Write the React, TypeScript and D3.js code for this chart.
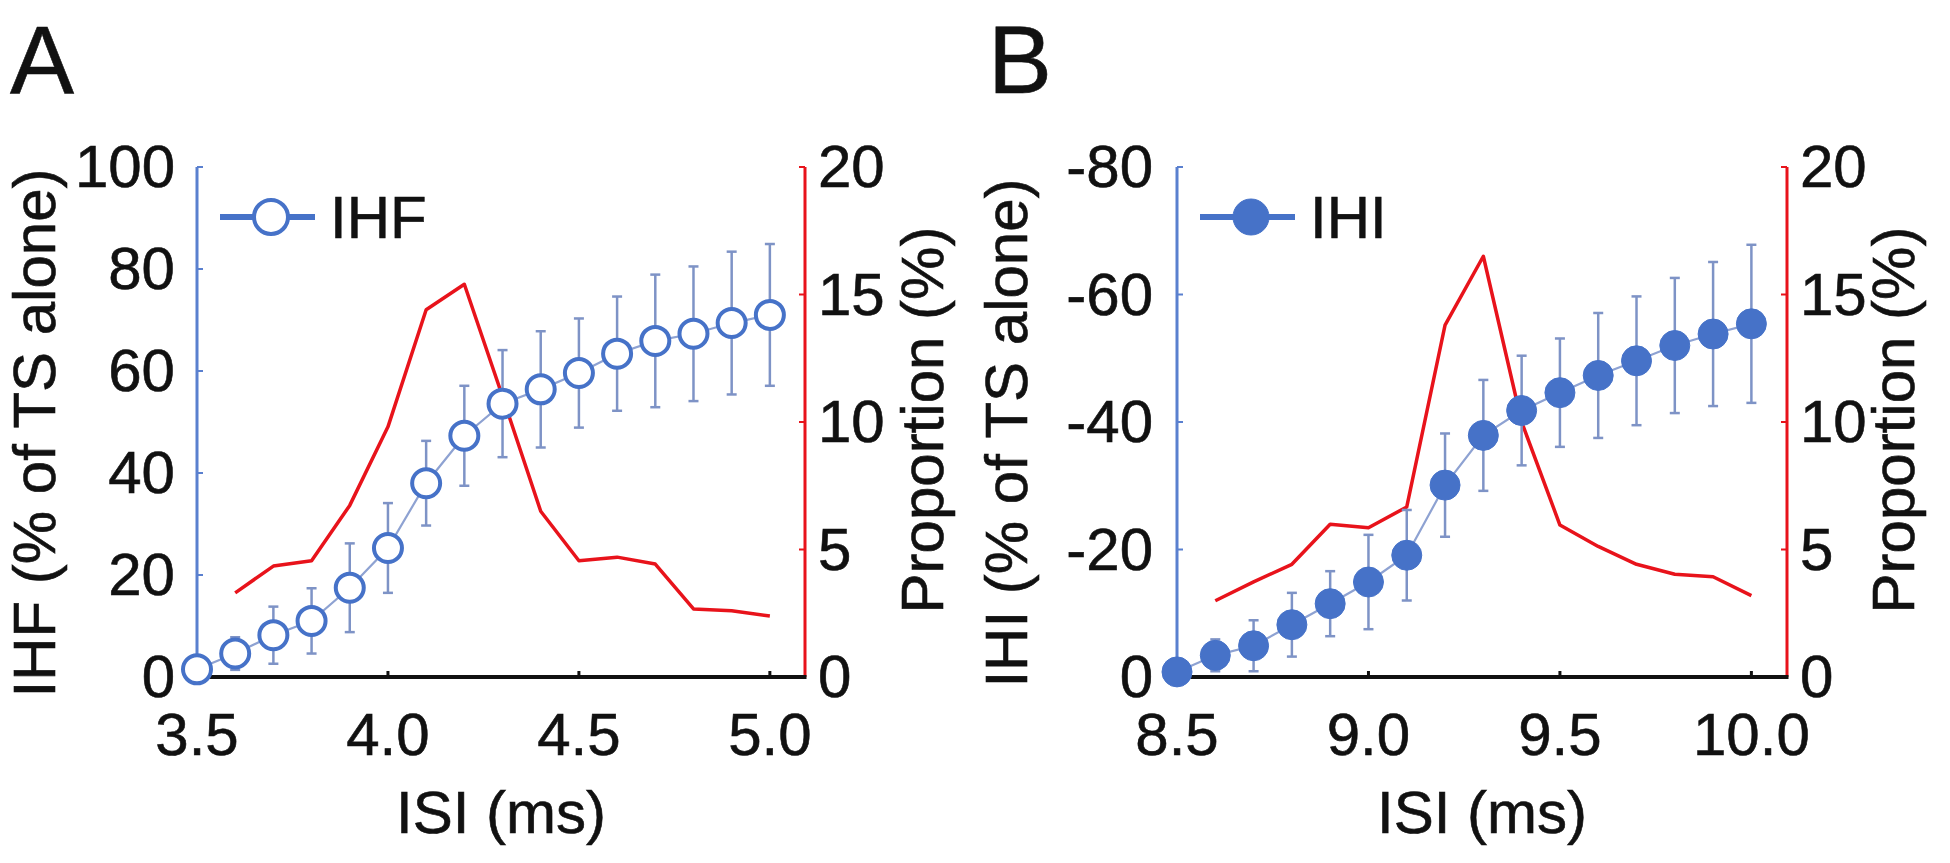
import React from "react";
import * as d3 from "d3";

// ---------- data ----------
const isiA = [3.5, 3.6, 3.7, 3.8, 3.9, 4.0, 4.1, 4.2, 4.3, 4.4, 4.5, 4.6, 4.7, 4.8, 4.9, 5.0];
const ihf = [1.5, 4.6, 8.2, 11.0, 17.5, 25.3, 38.0, 47.3, 53.6, 56.4, 59.6, 63.4, 65.9, 67.3, 69.4, 71.0];
const ihfErr = [0, 3.2, 5.6, 6.4, 8.7, 8.8, 8.3, 9.8, 10.5, 11.4, 10.7, 11.2, 13.0, 13.2, 14.0, 13.9];
const propIsiA = [3.6, 3.7, 3.8, 3.9, 4.0, 4.1, 4.2, 4.3, 4.4, 4.5, 4.6, 4.7, 4.8, 4.9, 5.0];
const propA = [3.3, 4.35, 4.56, 6.73, 9.81, 14.4, 15.4, 11.0, 6.5, 4.56, 4.7, 4.43, 2.67, 2.6, 2.39];

const isiB = [8.5, 8.6, 8.7, 8.8, 8.9, 9.0, 9.1, 9.2, 9.3, 9.4, 9.5, 9.6, 9.7, 9.8, 9.9, 10.0];
const ihi = [-0.8, -3.4, -4.9, -8.2, -11.5, -14.9, -19.1, -30.1, -37.9, -41.8, -44.6, -47.3, -49.6, -52.0, -53.8, -55.4];
const ihiErr = [0, 2.5, 4.0, 5.0, 5.1, 7.4, 7.1, 8.1, 8.7, 8.6, 8.5, 9.8, 10.1, 10.6, 11.3, 12.4];
const propIsiB = [8.6, 8.7, 8.8, 8.9, 9.0, 9.1, 9.2, 9.3, 9.4, 9.5, 9.6, 9.7, 9.8, 9.9, 10.0];
const propB = [2.99, 3.73, 4.42, 5.99, 5.85, 6.67, 13.8, 16.5, 10.0, 5.96, 5.12, 4.42, 4.03, 3.93, 3.19];

const xTicksA = [3.5, 4.0, 4.5, 5.0];
const xTicksB = [8.5, 9.0, 9.5, 10.0];
const yTicksA = [0, 20, 40, 60, 80, 100];
const yTicksB = [0, -20, -40, -60, -80];
const propTicks = [0, 5, 10, 15, 20];

const BLUE = "#4672C8";
const AXIS_BLUE = "#5A80CF";
const ERR = "#7E93C6";
const CONN = "#8EA2D2";
const RED = "#E8131B";
const INK = "#111";
const FONT = "'Liberation Sans', Arial, Helvetica, sans-serif";

type PanelProps = {
  letter: string;
  left: number;
  right: number;
  xDomain: [number, number];
  xTicks: number[];
  yDomain: [number, number];
  yTicks: number[];
  xs: number[];
  ys: number[];
  errs: number[];
  pxs: number[];
  ps: number[];
  yLabel: string;
  legend: string;
  filled: boolean;
  leftLabelEnd: number;
  rightLabelStart: number;
  yLabelX: number;
  propLabelX: number;
  letterX: number;
};

const TOP = 167;
const BOTTOM = 677;

function Panel(p: PanelProps) {
  const x = d3.scaleLinear().domain(p.xDomain).range([p.left, p.right]);
  const y = d3.scaleLinear().domain(p.yDomain).range([BOTTOM, TOP]);
  const yr = d3.scaleLinear().domain([0, 20]).range([BOTTOM, TOP]);
  const line = d3
    .line<number>()
    .x((_, i) => x(p.xs[i]))
    .y((d) => y(d));
  const pline = d3
    .line<number>()
    .x((_, i) => x(p.pxs[i]))
    .y((d) => yr(d));
  const x0 = p.left;
  const sign = p.yDomain[1] < 0 ? -1 : 1;
  const legY = 217;
  const txt = { fill: INK, stroke: INK, strokeWidth: 0.6 };
  return (
    <g fontFamily={FONT}>
      <text x={p.letterX} y={93} fontSize={96} {...txt}>
        {p.letter}
      </text>
      {/* left axis */}
      <line x1={x0} x2={x0} y1={TOP} y2={BOTTOM} stroke={AXIS_BLUE} strokeWidth={3} />
      {p.yTicks.map((t) => (
        <g key={"yl" + t}>
          <line x1={x0} x2={x0 + 6} y1={y(t)} y2={y(t)} stroke={AXIS_BLUE} strokeWidth={2} />
          <text x={p.leftLabelEnd} y={y(t) + 20} fontSize={60} textAnchor="end" {...txt}>
            {t}
          </text>
        </g>
      ))}
      {/* right axis */}
      <line x1={p.right} x2={p.right} y1={TOP} y2={BOTTOM} stroke={RED} strokeWidth={3} />
      {propTicks.map((t) => (
        <g key={"yr" + t}>
          <line x1={p.right} x2={p.right - 6} y1={yr(t)} y2={yr(t)} stroke={RED} strokeWidth={2} />
          <text x={p.rightLabelStart} y={yr(t) + 20} fontSize={60} {...txt}>
            {t}
          </text>
        </g>
      ))}
      {/* bottom axis */}
      <line x1={x0} x2={p.right + 1.5} y1={BOTTOM} y2={BOTTOM} stroke={INK} strokeWidth={4} />
      {p.xTicks.map((t) => (
        <g key={"x" + t}>
          <line x1={x(t)} x2={x(t)} y1={BOTTOM} y2={BOTTOM - 6} stroke={INK} strokeWidth={3} />
          <text x={x(t)} y={755} fontSize={60} textAnchor="middle" {...txt}>
            {t.toFixed(1)}
          </text>
        </g>
      ))}
      {/* labels */}
      <text
        transform={`translate(${p.yLabelX},${433}) rotate(-90)`}
        fontSize={60}
        textAnchor="middle"
        {...txt}
      >
        {p.yLabel}
      </text>
      <text
        transform={`translate(${p.propLabelX},${420}) rotate(-90)`}
        fontSize={60}
        textAnchor="middle"
        {...txt}
      >
        Proportion (%)
      </text>
      <text x={(p.left + p.right) / 2} y={833} fontSize={60} textAnchor="middle" {...txt}>
        ISI (ms)
      </text>
      {/* red proportion line */}
      <path d={pline(p.ps) || ""} fill="none" stroke={RED} strokeWidth={3.5} strokeLinejoin="round" />
      {/* connecting line */}
      <path d={line(p.ys) || ""} fill="none" stroke={CONN} strokeWidth={2.2} />
      {/* error bars */}
      {p.ys.map((v, i) =>
        p.errs[i] > 0 ? (
          <g key={"e" + i} stroke={ERR} strokeWidth={2.5}>
            <line x1={x(p.xs[i])} x2={x(p.xs[i])} y1={y(v + sign * p.errs[i])} y2={y(v - sign * p.errs[i])} />
            <line x1={x(p.xs[i]) - 5} x2={x(p.xs[i]) + 5} y1={y(v + sign * p.errs[i])} y2={y(v + sign * p.errs[i])} />
            <line x1={x(p.xs[i]) - 5} x2={x(p.xs[i]) + 5} y1={y(v - sign * p.errs[i])} y2={y(v - sign * p.errs[i])} />
          </g>
        ) : null
      )}
      {/* markers */}
      {p.ys.map((v, i) => (
        <circle
          key={"m" + i}
          cx={x(p.xs[i])}
          cy={y(v)}
          r={p.filled ? 15 : 14}
          fill={p.filled ? BLUE : "#fff"}
          stroke={BLUE}
          strokeWidth={p.filled ? 1 : 4}
        />
      ))}
      {/* legend */}
      <line x1={p.left + 23} x2={p.left + 118} y1={legY} y2={legY} stroke={BLUE} strokeWidth={6} />
      <circle
        cx={p.left + 74}
        cy={legY}
        r={p.filled ? 18 : 17}
        fill={p.filled ? BLUE : "#fff"}
        stroke={BLUE}
        strokeWidth={p.filled ? 1 : 4}
      />
      <text x={p.left + 133} y={238} fontSize={60} {...txt}>
        {p.legend}
      </text>
    </g>
  );
}

export default function App() {
  return (
    <div style={{ position: "absolute", left: 0, top: 0 }}>
      <svg width={1950} height={863} style={{ display: "block", background: "#fff" }}>
        <rect width={1950} height={863} fill="#fff" />
        <Panel
          letter="A"
          left={197}
          right={805}
          xDomain={[3.5, 5.092]}
          xTicks={xTicksA}
          yDomain={[0, 100]}
          yTicks={yTicksA}
          xs={isiA}
          ys={ihf}
          errs={ihfErr}
          pxs={propIsiA}
          ps={propA}
          yLabel="IHF (% of TS alone)"
          legend="IHF"
          filled={false}
          leftLabelEnd={175}
          rightLabelStart={818}
          yLabelX={55}
          propLabelX={943}
          letterX={10}
        />
        <Panel
          letter="B"
          left={1177}
          right={1787}
          xDomain={[8.5, 10.093]}
          xTicks={xTicksB}
          yDomain={[0, -80]}
          yTicks={yTicksB}
          xs={isiB}
          ys={ihi}
          errs={ihiErr}
          pxs={propIsiB}
          ps={propB}
          yLabel="IHI (% of TS alone)"
          legend="IHI"
          filled={true}
          leftLabelEnd={1153}
          rightLabelStart={1800}
          yLabelX={1027}
          propLabelX={1914}
          letterX={988}
        />
      </svg>
    </div>
  );
}
